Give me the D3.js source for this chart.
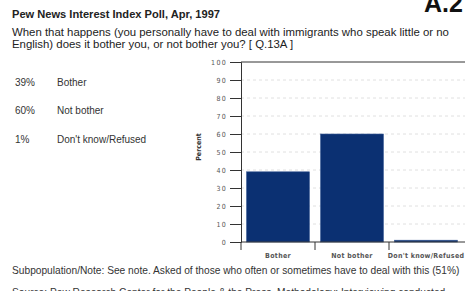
<!DOCTYPE html>
<html><head><meta charset="utf-8">
<script src="https://cdn.jsdelivr.net/npm/d3@7"></script>
<style>
body{margin:0;background:#fff;}
svg{display:block;}
</style></head><body>
<script>
const categories = ["Bother", "Not bother", "Don't know/Refused"];
const values = [39, 60, 1];
const pctLabels = ["39%", "60%", "1%"];
const yTicks = [0, 10, 20, 30, 40, 50, 60, 70, 80, 90, 100];

const W = 465, H = 291;
const svg = d3.select("body").append("svg").attr("width", W).attr("height", H);
const sans = "'Liberation Sans', Arial, sans-serif";
const cond = "'DejaVu Sans Condensed', 'DejaVu Sans', sans-serif";

svg.append("text").attr("x", 424).attr("y", 12).text("A.2")
  .attr("font-family", sans).attr("font-weight", "bold").attr("font-size", 25).attr("fill", "#111");
svg.append("text").attr("x", 12).attr("y", 18).text("Pew News Interest Index Poll, Apr, 1997")
  .attr("font-family", sans).attr("font-weight", "bold").attr("font-size", 11.1).attr("fill", "#222");
svg.append("text").attr("x", 12).attr("y", 36)
  .text("When that happens (you personally have to deal with immigrants who speak little or no")
  .attr("font-family", sans).attr("font-size", 11.4).attr("fill", "#222");
svg.append("text").attr("x", 12).attr("y", 48)
  .text("English) does it bother you, or not bother you? [ Q.13A ]")
  .attr("font-family", sans).attr("font-size", 11.4).attr("fill", "#222");

const list = svg.append("g");
categories.forEach((c, i) => {
  const y = 85.5 + i * 28.5;
  list.append("text").attr("x", 15).attr("y", y).text(pctLabels[i])
    .attr("font-family", sans).attr("font-size", 10).attr("fill", "#333");
  list.append("text").attr("x", 57).attr("y", y).text(c)
    .attr("font-family", sans).attr("font-size", 10).attr("fill", "#333");
});

const x = d3.scaleBand().domain(categories).range([241, 463]).paddingInner(0.15).paddingOuter(0.075);
const y = d3.scaleLinear().domain([0, 100]).range([242, 62]);

const g = svg.append("g");
g.selectAll("line.grid").data(yTicks.filter(t => t > 0 && t < 100)).join("line")
  .attr("x1", 241).attr("x2", 465).attr("y1", d => y(d)).attr("y2", d => y(d))
  .attr("stroke", "#d8d8d8").attr("stroke-width", 0.8).attr("stroke-dasharray", "3,3");
g.append("line").attr("x1", 241).attr("x2", 465).attr("y1", y(100)).attr("y2", y(100))
  .attr("stroke", "#333").attr("stroke-width", 1);

g.selectAll("rect.bar").data(values).join("rect")
  .attr("x", (d, i) => x(categories[i])).attr("width", x.bandwidth())
  .attr("y", d => y(d)).attr("height", d => y(0) - y(d))
  .attr("fill", "#0b3072").attr("stroke", "#3a5a94").attr("stroke-width", 0.6);

const yAxis = d3.axisLeft(y).tickValues(yTicks).tickSize(11).tickPadding(3).tickFormat(d3.format("d"));
const ya = svg.append("g").attr("transform", "translate(241,0)").call(yAxis);
ya.select(".domain").attr("stroke", "#333");
ya.selectAll(".tick line").attr("stroke", "#333");
ya.selectAll(".tick text").attr("font-family", cond).attr("font-size", 7)
  .attr("letter-spacing", 1.3).attr("fill", "#555");

svg.append("line").attr("x1", 241).attr("x2", 465).attr("y1", y(0)).attr("y2", y(0)).attr("stroke", "#333");
const step = x.step();
const seps = categories.map(c => x(c) - step * x.paddingInner() / 2);
svg.selectAll("line.sep").data(seps).join("line")
  .attr("x1", d => d).attr("x2", d => d).attr("y1", y(0)).attr("y2", y(0) + 8)
  .attr("stroke", "#333");
svg.selectAll("text.cat").data(categories).join("text")
  .attr("x", c => x(c) + x.bandwidth() / 2).attr("y", 258).attr("text-anchor", "middle")
  .text(c => c).attr("font-family", cond).attr("font-size", 7).attr("font-weight", "bold")
  .attr("letter-spacing", 0.3).attr("fill", "#555");

svg.append("text").attr("transform", "translate(201,147) rotate(-90)").attr("text-anchor", "middle")
  .text("Percent").attr("font-family", cond).attr("font-size", 7).attr("font-weight", "bold").attr("fill", "#333");

svg.append("text").attr("x", 12).attr("y", 274)
  .text("Subpopulation/Note: See note. Asked of those who often or sometimes have to deal with this (51%)")
  .attr("font-family", sans).attr("font-size", 10.2).attr("fill", "#333");
svg.append("text").attr("x", 12).attr("y", 296)
  .text("Source: Pew Research Center for the People & the Press. Methodology: Interviewing conducted ...")
  .attr("font-family", sans).attr("font-size", 10.2).attr("fill", "#333");
</script>
</body></html>
